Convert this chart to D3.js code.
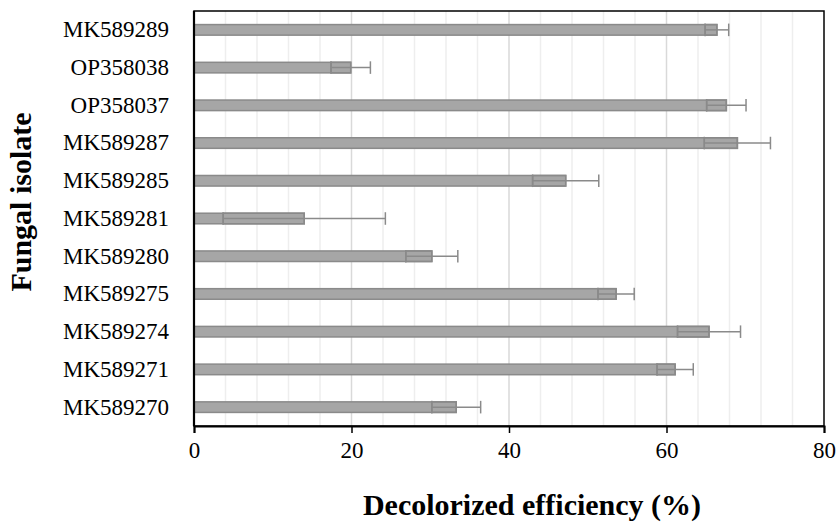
<!DOCTYPE html>
<html>
<head>
<meta charset="utf-8">
<script src="https://cdn.jsdelivr.net/npm/d3@7"></script>
<style>
  html, body { margin: 0; padding: 0; background: #fff; }
  svg { display: block; }
  svg text { font-family: "Liberation Serif", "Times New Roman", serif !important; fill: #000; }
</style>
</head>
<body>
<svg id="chart" width="838" height="523"></svg>
<script>
const isolates = ["MK589289","OP358038","OP358037","MK589287","MK589285","MK589281","MK589280","MK589275","MK589274","MK589271","MK589270"];
const efficiency = [66.4, 19.9, 67.6, 69.0, 47.2, 14.0, 30.2, 53.6, 65.4, 61.1, 33.3];
const errors = [1.5, 2.5, 2.5, 4.2, 4.2, 10.3, 3.3, 2.3, 4.0, 2.3, 3.1];
const xTicks = [0, 20, 40, 60, 80];
const xMinorTicks = [4, 8, 12, 16, 24, 28, 32, 36, 44, 48, 52, 56, 64, 68, 72, 76];
const xTitle = "Decolorized efficiency (%)";
const yTitle = "Fungal isolate";

const FONT = '"Liberation Serif", "Times New Roman", serif';
const svg = d3.select("#chart");
const L = 194, R = 824, T = 11, B = 426;

const x = d3.scaleLinear().domain([0, 80]).range([L, R]);
const y = d3.scaleBand().domain(isolates).range([T, B]).paddingInner(0.72).paddingOuter(0.36);

// gridlines
svg.append("g").selectAll("line").data(xMinorTicks).join("line")
  .attr("x1", d => x(d)).attr("x2", d => x(d)).attr("y1", T).attr("y2", B)
  .attr("stroke", "#eeeeee").attr("stroke-width", 1.5);
svg.append("g").selectAll("line").data(xTicks.slice(1, -1)).join("line")
  .attr("x1", d => x(d)).attr("x2", d => x(d)).attr("y1", T).attr("y2", B)
  .attr("stroke", "#d9d9d9").attr("stroke-width", 1.5);

const rows = isolates.map((name, i) => ({ name, v: efficiency[i], e: errors[i] }));

// bars
svg.append("g").selectAll("rect").data(rows).join("rect")
  .attr("x", x(0))
  .attr("y", d => y(d.name))
  .attr("width", d => x(d.v) - x(0))
  .attr("height", y.bandwidth())
  .attr("fill", "#a6a6a6")
  .attr("stroke", "#8a8a8a")
  .attr("stroke-width", 1.5);

// error bars
const eg = svg.append("g").attr("stroke", "#8a8a8a").attr("stroke-width", 1.5).attr("fill", "none");
const capH = y.bandwidth() + 2;
rows.forEach(d => {
  const cy = y(d.name) + y.bandwidth() / 2;
  eg.append("line").attr("x1", x(d.v - d.e)).attr("x2", x(d.v + d.e)).attr("y1", cy).attr("y2", cy);
  eg.append("line").attr("x1", x(d.v - d.e)).attr("x2", x(d.v - d.e)).attr("y1", cy - capH / 2).attr("y2", cy + capH / 2);
  eg.append("line").attr("x1", x(d.v + d.e)).attr("x2", x(d.v + d.e)).attr("y1", cy - capH / 2).attr("y2", cy + capH / 2);
  eg.append("rect").attr("x", x(d.v - d.e)).attr("y", cy - y.bandwidth() / 2)
    .attr("width", x(d.v) - x(d.v - d.e)).attr("height", y.bandwidth());
});

// plot frame
svg.append("rect").attr("x", L).attr("y", T).attr("width", R - L).attr("height", B - T)
  .attr("fill", "none").attr("stroke", "#000").attr("stroke-width", 1.5);
svg.append("line").attr("x1", L).attr("x2", L).attr("y1", T).attr("y2", B)
  .attr("stroke", "#000").attr("stroke-width", 2.2);

// x axis
const xAxis = d3.axisBottom(x).tickValues(xTicks).tickSize(7).tickPadding(9).tickFormat(d3.format("d"));
const gx = svg.append("g").attr("transform", `translate(0,${B})`).call(xAxis).attr("font-family", FONT);
gx.select(".domain").attr("stroke", "#000").attr("stroke-width", 2);
gx.selectAll(".tick line").attr("stroke", "#000").attr("stroke-width", 1.5);
gx.selectAll(".tick text").attr("font-size", 23).attr("fill", "#000");

// y axis labels
const yAxis = d3.axisLeft(y).tickSize(0).tickPadding(25);
const gy = svg.append("g").attr("transform", `translate(${L},0)`).call(yAxis).attr("font-family", FONT);
gy.select(".domain").remove();
gy.selectAll(".tick text").attr("font-size", 23).attr("fill", "#000");

// titles
svg.append("text").attr("x", 532).attr("y", 515).attr("text-anchor", "middle")
  .attr("font-family", FONT).attr("font-size", 30).attr("font-weight", "bold").text(xTitle);
svg.append("text").attr("transform", "translate(31,202) rotate(-90)").attr("text-anchor", "middle")
  .attr("font-family", FONT).attr("font-size", 30).attr("font-weight", "bold").text(yTitle);
</script>
</body>
</html>
